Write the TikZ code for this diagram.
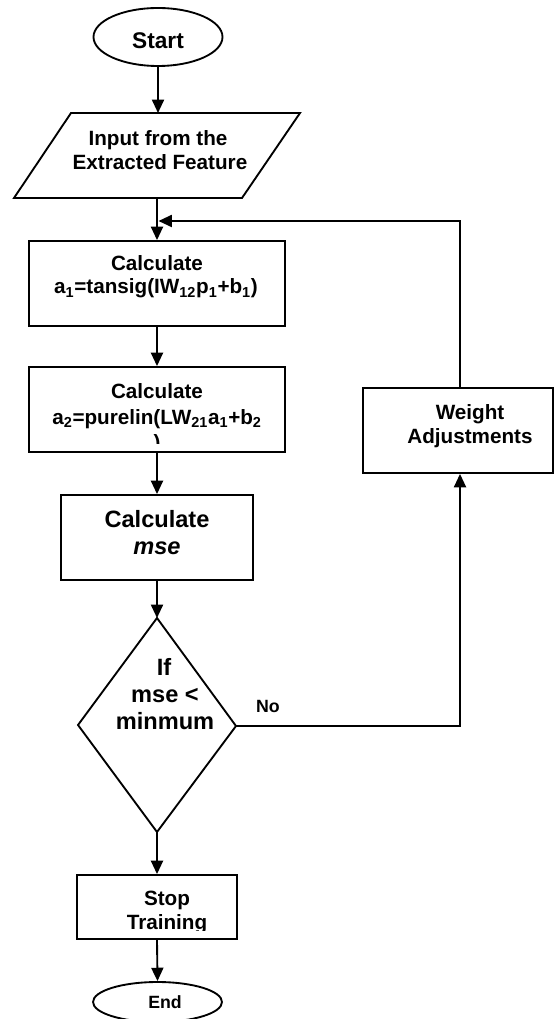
\documentclass[tikz,border=0pt]{standalone}
\usepackage{fontspec}
\setmainfont{Liberation Sans}
\usetikzlibrary{arrows.meta,calc,shapes.geometric}
\begin{document}
\begin{tikzpicture}[x=0.75pt,y=-0.75pt,
  line width=1.4pt,
  box/.style={draw,rectangle,inner sep=0pt},
  term/.style={draw,ellipse,inner sep=0pt},
  txt/.style={anchor=base,inner sep=0pt,font=\bfseries\fontsize{15.5}{18}\selectfont},
  bigtxt/.style={anchor=base,inner sep=0pt,font=\bfseries\fontsize{17.7}{20}\selectfont},
  smalltxt/.style={anchor=base,inner sep=0pt,font=\bfseries\fontsize{13.3}{16}\selectfont},
  arr/.style={-{Triangle[length=10pt,width=9pt]}},
  ]
\useasboundingbox (0,0) rectangle (554,1019);
\clip (0,0) rectangle (554,1019);

% Start
\node[term,minimum width=96.75pt,minimum height=43.5pt] (start) at (158,37) {};
\node[bigtxt,font=\bfseries\fontsize{17}{20}\selectfont] (startt) at (158,49) {Start};

% Input parallelogram
\coordinate (p1) at (71,113);
\coordinate (p2) at (300,113);
\coordinate (p3) at (242,198);
\coordinate (p4) at (14,198);
\coordinate (ptop) at (158,113);
\coordinate (pbot) at (157,198);
\draw (p1) -- (p2) -- (p3) -- (p4) -- cycle;
\node[txt] (in1) at (158,146) {Input from the};
\node[txt] (in2) at (160,170) {Extracted Feature};

% Calc 1
\node[box,minimum width=192pt,minimum height=63.75pt] (calc1) at (157,283.5) {};
\node[txt] (c1a) at (157,271) {Calculate};
\node[txt] (c1b) at (156,294) {a\textsubscript{1}=tansig(IW\textsubscript{12}p\textsubscript{1}+b\textsubscript{1})};

% Calc 2
\node[box,minimum width=192pt,minimum height=63.75pt] (calc2) at (157,409.5) {};
\node[txt] (c2a) at (157,398) {Calculate};
\begin{scope}
  \clip (28,367) rectangle (284,443);
  \node[txt] (c2b) at (157,424) {a\textsubscript{2}=purelin(LW\textsubscript{21}a\textsubscript{1}+b\textsubscript{2}};
  \node[txt] (c2c) at (157,449) {)};
\end{scope}

% Calc mse
\node[box,minimum width=144pt,minimum height=63.75pt] (mse) at (157,537.5) {};
\node[bigtxt] (msea) at (157,527.5) {Calculate};
\node[bigtxt] (mseb) at (157,554) {\itshape mse};

% Decision diamond
\coordinate (dt) at (157,618);
\coordinate (dr) at (236,726);
\coordinate (db) at (157,832);
\coordinate (dl) at (78,725);
\draw (dt) -- (dr) -- (db) -- (dl) -- cycle;
\node[bigtxt] (d1) at (164,675) {If};
\node[bigtxt] (d2) at (165,702) {mse <};
\node[bigtxt] (d3) at (165,729) {minmum};
\node[smalltxt] (no) at (268,712) {No};

% Weight adjustments
\node[box,minimum width=142.5pt,minimum height=63.75pt] (weight) at (458,430.5) {};
\node[txt] (w1) at (470,419) {Weight};
\node[txt] (w2) at (470,443) {Adjustments};

% Stop training
\node[box,minimum width=120pt,minimum height=48pt] (stop) at (157,907) {};
\node[txt] (s1) at (167,905) {Stop};
\begin{scope}
  \clip (77,875) rectangle (237,930);
  \node[txt] (s2) at (167,929) {Training};
\end{scope}

% End
\node[term,minimum width=96.75pt,minimum height=30pt] (end) at (157.5,1002) {};
\node[smalltxt] (endt) at (165,1008) {End};

% loop coordinates
\coordinate (loopx) at (460,0);
\coordinate (loopy) at (0,221);
\coordinate (join) at (158.5,221);

% Connectors
\draw[arr] (start.south) -- (ptop);
\draw[arr] (pbot) -- (calc1.north);
\draw[arr] (calc1.south) -- (calc2.north);
\draw[arr] (calc2.south) -- (mse.north);
\draw[arr] (mse.south) -- (dt);
\draw[arr] (db) -- (stop.north);
\draw[arr] (stop.south) -- (end.north);
\draw[arr] (dr) -- (dr -| loopx) -- (weight.south -| loopx);
\draw[arr] (weight.north -| loopx) -- (loopx |- loopy) -- (join);
\end{tikzpicture}
\end{document}
